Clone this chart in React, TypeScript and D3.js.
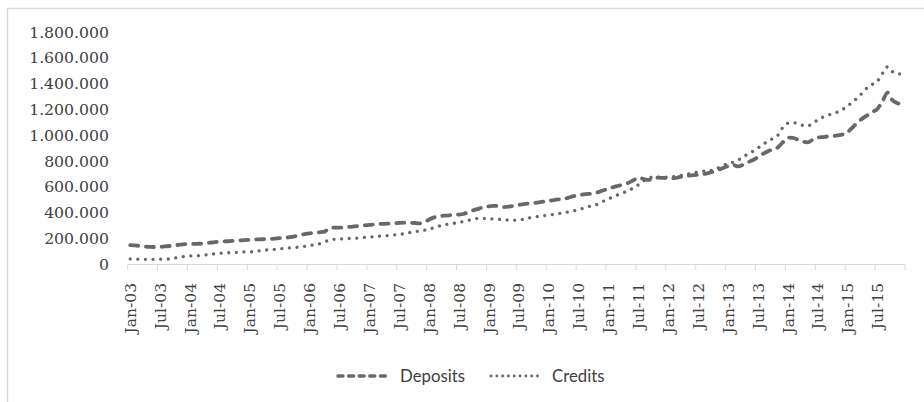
import React from "react";
import * as d3 from "d3";

// Monthly observations Jan-03 .. Dec-15 (values in thousands)
const monthsCount = 156;

const deposits: number[] = [
  // 2003
  147, 144, 140, 136, 133, 132, 133, 136, 140, 145, 150, 154,
  // 2004
  155, 156, 157, 160, 165, 170, 173, 175, 178, 180, 183, 186,
  // 2005
  188, 190, 191, 193, 194, 197, 200, 203, 208, 215, 224, 232,
  // 2006
  238, 242, 246, 251, 280, 282, 282, 285, 288, 292, 296, 300,
  // 2007
  304, 307, 310, 312, 314, 316, 319, 321, 320, 318, 315, 325,
  // 2008
  345, 362, 372, 375, 378, 381, 383, 390, 405, 418, 430, 442,
  // 2009
  447, 451, 450, 442, 445, 452, 459, 464, 469, 473, 479, 485,
  // 2010
  490, 496, 501, 505, 515, 526, 534, 540, 544, 547, 558, 572,
  // 2011
  585, 597, 607, 617, 630, 650, 670, 660, 652, 663, 670, 668,
  // 2012
  666, 665, 672, 680, 685, 689, 693, 697, 705, 716, 730, 745,
  // 2013
  760, 768, 757, 770, 790, 807, 830, 855, 875, 890, 905, 945,
  // 2014
  980, 978, 965, 950, 944, 965, 980, 985, 990, 993, 998, 1005,
  // 2015
  1025, 1060, 1100, 1130, 1155, 1180, 1205, 1265, 1330, 1270, 1248, 1240,
];

const credits: number[] = [
  // 2003
  39, 38, 37, 36, 36, 36, 37, 38, 40, 46, 53, 59,
  // 2004
  62, 64, 66, 70, 74, 79, 83, 85, 88, 90, 92, 94,
  // 2005
  94, 98, 102, 107, 111, 114, 117, 121, 125, 128, 132, 137,
  // 2006
  142, 150, 157, 172, 186, 192, 194, 196, 198, 200, 203, 206,
  // 2007
  209, 212, 216, 219, 222, 226, 230, 235, 243, 250, 256, 262,
  // 2008
  270, 282, 294, 303, 310, 316, 323, 331, 340, 349, 354, 354,
  // 2009
  351, 349, 346, 342, 341, 340, 341, 348, 357, 364, 370, 375,
  // 2010
  380, 385, 391, 397, 404, 412, 422, 433, 445, 455, 466, 488,
  // 2011
  505, 522, 538, 553, 570, 590, 615, 645, 665, 675, 674, 673,
  // 2012
  673, 678, 684, 691, 698, 705, 714, 720, 725, 729, 745, 765,
  // 2013
  776, 790, 807, 830, 855, 875, 900, 930, 950, 975, 1000, 1060,
  // 2014
  1092, 1095, 1092, 1075, 1071, 1095, 1117, 1140, 1155, 1165, 1180, 1200,
  // 2015
  1225, 1259, 1290, 1330, 1370, 1395, 1420, 1480, 1530, 1492, 1476, 1474,
];

const yTicks: number[] = [0, 200000, 400000, 600000, 800000, 1000000, 1200000, 1400000, 1600000, 1800000];

const xTickLabels: string[] = [
  "Jan-03", "Jul-03", "Jan-04", "Jul-04", "Jan-05", "Jul-05", "Jan-06", "Jul-06",
  "Jan-07", "Jul-07", "Jan-08", "Jul-08", "Jan-09", "Jul-09", "Jan-10", "Jul-10",
  "Jan-11", "Jul-11", "Jan-12", "Jul-12", "Jan-13", "Jul-13", "Jan-14", "Jul-14",
  "Jan-15", "Jul-15",
];

const seriesNames: string[] = ["Deposits", "Credits"];

const W = 924;
const H = 402;
const COLOR = "#686868";
const AXIS = "#d9d9d9";

const fmt = d3
  .formatLocale({ decimal: ",", thousands: ".", grouping: [3], currency: ["", ""] })
  .format(",.0f");

export default function App() {
  const x = d3.scaleLinear().domain([0, monthsCount]).range([127.7, 905]);
  const y = d3.scaleLinear().domain([0, 1800000]).range([264, 32]);
  const xc = (i: number) => x(i + 0.5);

  const line = d3
    .line<number>()
    .x((_, i) => xc(i))
    .y((v) => y(v * 1000))
    .curve(d3.curveMonotoneX);

  const boundaries = d3.range(0, monthsCount + 1, 6);

  return (
    <svg
      width={W}
      height={H}
      style={{ position: "absolute", left: 0, top: 0, background: "#fff" }}
    >
      <rect x={0} y={0} width={W} height={H} fill="#fff" />
      {/* chart area border */}
      <rect x={7.5} y={8.5} width={W + 10} height={H + 10} fill="none" stroke={AXIS} strokeWidth={1.5} />

      {/* y tick labels */}
      {yTicks.map((t) => (
        <text
          key={t}
          x={109}
          y={y(t)}
          dy="0.36em"
          textAnchor="end"
          fontFamily="'DejaVu Serif', serif"
          fontSize={15.7}
          fill="#404040"
        >
          {fmt(t)}
        </text>
      ))}

      {/* x axis */}
      <line x1={x(0)} x2={x(monthsCount)} y1={264.5} y2={264.5} stroke={AXIS} strokeWidth={1} />
      {boundaries.map((b) => (
        <line key={b} x1={x(b)} x2={x(b)} y1={264.5} y2={270} stroke={AXIS} strokeWidth={1} />
      ))}
      {xTickLabels.map((lab, k) => {
        const cx = xc(k * 6);
        return (
          <text
            key={lab}
            transform={`translate(${cx},283) rotate(-90)`}
            dy="0.36em"
            textAnchor="end"
            fontFamily="'DejaVu Serif', serif"
            fontSize={15.5}
            fill="#404040"
          >
            {lab}
          </text>
        );
      })}

      {/* series */}
      <path
        d={line(credits) || ""}
        fill="none"
        stroke={COLOR}
        strokeWidth={3.3}
        strokeLinecap="round"
        strokeDasharray="0.01 7.6"
      />
      <path
        d={line(deposits) || ""}
        fill="none"
        stroke={COLOR}
        strokeWidth={3.8}
        strokeLinecap="round"
        strokeDasharray="8 7.8"
      />

      {/* legend */}
      <line x1={338} x2={390} y1={376} y2={376} stroke={COLOR} strokeWidth={3.4} strokeLinecap="round" strokeDasharray="5 5.6" />
      <text x={400} y={382} fontFamily="Lato, 'Open Sans', sans-serif" fontSize={16.8} fill="#404040">
        {seriesNames[0]}
      </text>
      <line x1={491} x2={542} y1={376} y2={376} stroke={COLOR} strokeWidth={2.9} strokeLinecap="round" strokeDasharray="0.01 5.8" />
      <text x={552} y={382} fontFamily="Lato, 'Open Sans', sans-serif" fontSize={16.8} fill="#404040">
        {seriesNames[1]}
      </text>
    </svg>
  );
}
